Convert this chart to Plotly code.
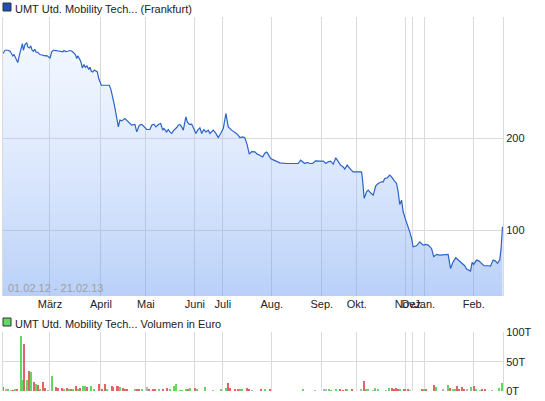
import plotly.graph_objects as go

# Kursverlauf (Index = Handelstag seit 01.02.12)
price_days = [
    0.0, 1.0, 2.5, 3.5, 4.2, 4.9, 5.5, 6.0, 6.9, 7.4, 8.2, 9.0, 9.7, 10.2, 11.0, 11.9, 12.4, 13.2, 13.9, 14.5,
    15.2, 15.9, 16.5, 17.5, 18.5, 19.9, 21.0, 21.9, 22.7, 23.5, 24.4, 25.2, 26.5, 27.7, 29.0, 29.9, 30.5, 31.4,
    32.4, 33.5, 34.4, 35.2, 36.2, 36.9, 37.4, 38.2, 39.0, 39.7, 40.5, 41.2, 42.0, 42.9, 43.5, 44.2, 44.9, 45.7,
    46.5, 47.2, 47.9, 48.5, 49.2, 51.0, 53.2, 54.0, 54.9, 55.5, 56.2, 57.7, 58.5, 59.4, 61.0, 62.7, 64.4, 66.0,
    66.9, 68.2, 69.4, 70.7, 71.9, 73.5, 74.4, 75.5, 76.5, 77.7, 78.9, 79.9, 80.5, 81.9, 82.7, 83.5, 84.4, 85.2,
    86.0, 86.9, 87.7, 88.5, 89.4, 90.2, 91.5, 92.2, 93.2, 94.4, 95.2, 96.5, 97.4, 98.5, 99.4, 100.5, 101.5,
    102.7, 103.5, 105.2, 106.5, 107.7, 108.9, 110.2, 111.5, 112.7, 114.4, 116.0, 117.2, 118.5, 119.9, 121.0,
    122.2, 123.2, 124.4, 126.0, 127.2, 128.5, 129.9, 131.0, 131.9, 132.7, 133.9, 135.2, 136.9, 138.5, 141.9,
    145.2, 147.7, 148.9, 149.9, 151.0, 152.2, 153.5, 154.9, 156.4, 158.5, 160.2, 161.5, 162.7, 163.9, 165.2,
    166.5, 167.7, 168.9, 170.2, 171.0, 172.2, 173.2, 173.9, 175.2, 177.7, 179.4, 179.9, 180.7, 181.9, 182.7,
    183.9, 185.2, 186.5, 187.7, 189.4, 190.2, 191.0, 192.2, 193.5, 194.4, 195.5, 196.9, 197.7, 198.5, 199.4,
    200.2, 201.5, 202.7, 203.5, 204.4, 205.2, 206.9, 208.5, 210.2, 211.5, 212.7, 214.4, 215.5, 216.9, 218.5,
    222.7, 223.9, 225.2, 226.5, 227.7, 229.4, 231.0, 231.9, 233.0, 233.9, 234.7, 235.5, 236.9, 238.2, 239.4,
    240.7, 242.7, 243.9, 245.2, 246.4, 247.4, 248.5, 249.2, 249.9,
]
price_values = [
    292.7, 296.3, 296.3, 295.2, 292.7, 290.1, 291.6, 289.4, 284.3, 282.9, 290.9, 298.8, 303.6, 296.3, 302.5,
    304.7, 299.9, 298.8, 301.0, 296.6, 295.2, 297.4, 294.5, 293.8, 291.6, 290.9, 290.1, 290.5, 289.4, 287.9,
    294.5, 296.3, 296.0, 295.2, 294.9, 294.5, 296.0, 294.9, 295.2, 296.0, 295.5, 293.8, 291.6, 287.3, 290.1,
    287.3, 283.5, 277.0, 280.7, 277.8, 279.2, 275.3, 277.8, 273.4, 272.6, 274.8, 273.4, 272.6, 265.4, 262.5,
    258.1, 258.1, 258.1, 253.4, 246.1, 238.8, 230.9, 212.7, 220.0, 219.2, 221.8, 218.1, 214.5, 215.3, 207.2,
    214.5, 215.3, 212.7, 209.8, 209.8, 214.5, 215.6, 212.7, 215.3, 216.4, 209.1, 210.9, 207.2, 209.8, 207.2,
    205.5, 208.3, 209.8, 212.0, 214.5, 215.3, 212.7, 209.1, 223.6, 218.1, 215.3, 215.6, 212.0, 205.5, 209.1,
    211.6, 205.5, 209.8, 207.2, 209.1, 205.5, 209.1, 205.5, 201.1, 205.5, 210.9, 227.3, 212.7, 209.1, 206.6,
    204.7, 201.1, 201.8, 200.9, 192.7, 182.9, 185.6, 185.4, 182.9, 181.8, 179.9, 184.0, 185.1, 182.6, 178.0,
    176.7, 175.3, 173.4, 172.7, 172.7, 172.7, 176.3, 174.5, 172.7, 173.8, 172.7, 172.7, 175.6, 175.3, 175.3,
    172.7, 174.5, 175.3, 172.0, 178.9, 174.5, 170.9, 169.0, 166.5, 170.9, 167.3, 166.2, 163.6, 163.6, 163.6,
    154.5, 134.6, 141.8, 143.6, 140.7, 138.2, 148.3, 150.9, 152.7, 152.7, 156.4, 157.0, 160.0, 158.1, 154.5,
    150.9, 141.8, 128.0, 132.7, 120.0, 110.9, 104.4, 98.1, 90.9, 81.8, 82.9, 87.2, 83.6, 84.4, 83.6, 80.0,
    70.9, 73.5, 72.7, 73.5, 58.2, 65.4, 69.8, 67.3, 63.7, 61.1, 57.5, 56.4, 55.3, 64.8, 62.6, 67.3, 66.2,
    63.7, 61.1, 61.1, 60.7, 67.3, 66.2, 63.7, 67.3, 80.0, 103.6,
]

# Umsatz in Tausend Euro
volume_days = [
    0.0, 1.5, 2.7, 3.9, 5.2, 6.2, 7.2, 8.9, 9.7, 10.7, 12.2, 13.2, 14.0, 15.7, 16.5, 17.5, 18.5, 20.2, 21.2,
    22.7, 24.7, 26.4, 27.4, 29.7, 30.7, 31.9, 33.2, 34.0, 34.9, 36.5, 37.7, 38.5, 39.9, 40.9, 42.2, 43.9, 45.5,
    48.2, 49.4, 50.9, 52.2, 54.4, 55.2, 56.9, 57.7, 58.7, 59.9, 61.0, 62.2, 66.0, 67.2, 68.2, 69.4, 71.9, 72.9,
    74.9, 76.0, 78.2, 79.9, 82.2, 83.5, 85.5, 86.5, 88.5, 89.9, 91.5, 92.5, 93.5, 96.0, 97.2, 101.0, 105.2,
    109.4, 111.5, 112.7, 113.9, 116.0, 117.7, 118.9, 119.9, 122.2, 123.2, 124.9, 129.4, 131.0, 133.5, 150.2,
    156.4, 160.5, 161.5, 163.2, 164.2, 166.9, 168.7, 170.2, 171.5, 172.4, 174.7, 179.4, 180.7, 181.9, 182.7,
    185.2, 186.2, 187.7, 191.9, 193.2, 194.5, 195.5, 196.5, 197.7, 198.5, 200.5, 201.4, 202.5, 203.9, 209.7,
    210.9, 211.9, 215.5, 216.5, 220.2, 222.7, 223.5, 225.2, 226.0, 227.2, 228.2, 229.7, 230.5, 232.2, 234.0,
    235.5, 236.9, 238.5, 239.9, 241.0, 244.9, 248.0, 249.7,
]
volume_values = [
    6, 2, 2, 1, 1, 2, 3.4, 93, 19, 79, 17.6, 34, 32, 14, 12, 10, 2, 14, 4.5,
    1, 25.5, 5.7, 4.5, 4.5, 2, 4.5, 2.8, 3.4, 2.8, 8, 2, 5, 8, 8, 6.8, 8.5, 2,
    12, 2, 12, 2, 8, 6.8, 8, 8, 6, 4.5, 2.3, 2, 2, 2, 2, 2.8, 5.7, 2.8,
    2.8, 3.4, 2, 2, 4.5, 2, 8.5, 12, 1, 1, 3.4, 2, 5, 4.5, 2, 5.7, 1,
    2, 4, 12.5, 4, 3.4, 2, 2, 2, 5, 2, 1, 2, 2, 2, 2,
    1, 2, 2, 2, 1, 3.4, 2, 1, 3.4, 2, 3.4, 2, 17, 3.4, 2,
    1, 4.5, 2, 1, 5, 5, 3.4, 5, 3.4, 2, 2, 2, 2, 1, 3.4,
    2, 2, 10, 6, 2, 10, 5, 2, 2, 8.5, 2, 6, 2, 2, 6,
    8, 3.4, 1, 3.4, 2, 1, 5, 13.5,
]
volume_dirs = [
    "d", "f", "u", "f", "d", "u", "d", "u", "u", "d", "u", "d", "u", "d", "u", "d", "u", "d", "d",
    "f", "u", "d", "d", "d", "u", "d", "u", "d", "u", "d", "u", "d", "u", "u", "d", "u", "u",
    "d", "d", "d", "u", "d", "d", "d", "d", "u", "d", "d", "d", "u", "d", "d", "u", "f", "d",
    "d", "d", "u", "d", "d", "u", "u", "u", "u", "u", "u", "d", "u", "d", "u", "u", "f",
    "u", "u", "d", "d", "d", "d", "u", "u", "d", "d", "f", "d", "u", "d", "u",
    "f", "f", "f", "u", "u", "u", "d", "d", "d", "u", "d", "f", "d", "u", "u",
    "f", "u", "u", "f", "u", "d", "d", "d", "d", "u", "d", "d", "d", "f", "d",
    "u", "d", "d", "u", "f", "u", "d", "u", "u", "d", "d", "d", "d", "f", "u",
    "d", "u", "f", "d", "d", "f", "u", "u",
]
volume_ticks = [0, 50, 100]
volume_tick_labels = ["0T", "50T", "100T"]

month_starts = [23.5, 49, 71.5, 96, 110, 134.5, 159.5, 177, 201.5, 205, 211, 235.5]
month_labels = ["März", "April", "Mai", "Juni", "Juli", "Aug.", "Sep.", "Okt.", "Nov.", "Dez.", "Jan.", "Feb."]

DIR_COLORS = {"u": "#62d862", "d": "#e36464", "f": "#b4b4b4"}
FONT = "Liberation Sans, Arial, sans-serif"
GRID = "#dadada"
LINE_BLUE = "#2b63c6"

fig = go.Figure()

fig.add_trace(go.Scatter(
    x=price_days, y=price_values, mode="lines",
    line=dict(color=LINE_BLUE, width=1.2),
    fill="tozeroy",
    fillgradient=dict(
        type="vertical", start=28, stop=305,
        colorscale=[[0, "rgba(100,150,240,0.45)"], [1, "rgba(190,215,255,0.2)"]],
    ),
    xaxis="x", yaxis="y", showlegend=False, hoverinfo="skip",
))

fig.add_trace(go.Bar(
    x=volume_days, y=volume_values,
    marker=dict(color=[DIR_COLORS[d] for d in volume_dirs], line=dict(width=0)),
    width=0.7, xaxis="x2", yaxis="y2", showlegend=False, hoverinfo="skip",
))

x_range = [0, 250.15]
fig.update_layout(
    width=545, height=401,
    margin=dict(l=3, r=42, t=17, b=10),
    paper_bgcolor="white", plot_bgcolor="white",
    font=dict(family=FONT, size=11, color="#222"),
    xaxis=dict(
        domain=[0, 1], range=x_range, tickvals=month_starts, ticktext=month_labels,
        tickangle=0, automargin=False,
        showgrid=True, gridcolor=GRID, zeroline=False, ticks="", anchor="y",
        tickfont=dict(size=11, color="#222"),
    ),
    yaxis=dict(
        domain=[0.2538, 1], range=[28, 332.6], side="right", tickvals=[100, 200],
        automargin=False,
        showgrid=True, gridcolor=GRID, zeroline=False, ticks="",
        showline=True, mirror=True, linecolor=GRID, anchor="x",
    ),
    xaxis2=dict(
        domain=[0, 1], range=x_range, tickvals=month_starts, showticklabels=False,
        automargin=False,
        showgrid=True, gridcolor=GRID, zeroline=False, ticks="", anchor="y2",
    ),
    yaxis2=dict(
        domain=[0, 0.1568], range=[0, 100], side="right",
        tickvals=volume_ticks, ticktext=volume_tick_labels, automargin=False,
        showgrid=True, gridcolor=GRID, zeroline=False, ticks="",
        showline=True, mirror=True, linecolor=GRID, anchor="x2",
    ),
    bargap=0,
)

# Legendenzeilen oberhalb der beiden Diagramme
for y_px, color, label in [
    (3, "#1f4fb4", "UMT Utd. Mobility Tech... (Frankfurt)"),
    (318, "#62d862", "UMT Utd. Mobility Tech... Volumen in Euro"),
]:
    fig.add_shape(
        type="rect", xref="paper", yref="paper",
        xsizemode="pixel", ysizemode="pixel", xanchor=0, yanchor=1,
        x0=0, x1=8, y0=-(y_px - 17), y1=-(y_px - 17) - 8,
        fillcolor=color, line=dict(color="#333", width=1),
    )
    fig.add_annotation(
        xref="paper", yref="paper", x=0, y=1, xanchor="left", yanchor="top",
        xshift=10, yshift=-(y_px - 17) + 2, text=label, showarrow=False,
        font=dict(size=11, color="#222"),
    )

fig.add_annotation(
    xref="paper", yref="paper", x=0, y=0.2538, xanchor="left", yanchor="bottom",
    xshift=3, yshift=0, text="01.02.12 - 21.02.13", showarrow=False,
    font=dict(size=11, color="#a0a0a0"),
)

fig.write_html(
    "out.html",
    config={"displayModeBar": False},
    post_script="document.body.style.margin = '0';",
)
